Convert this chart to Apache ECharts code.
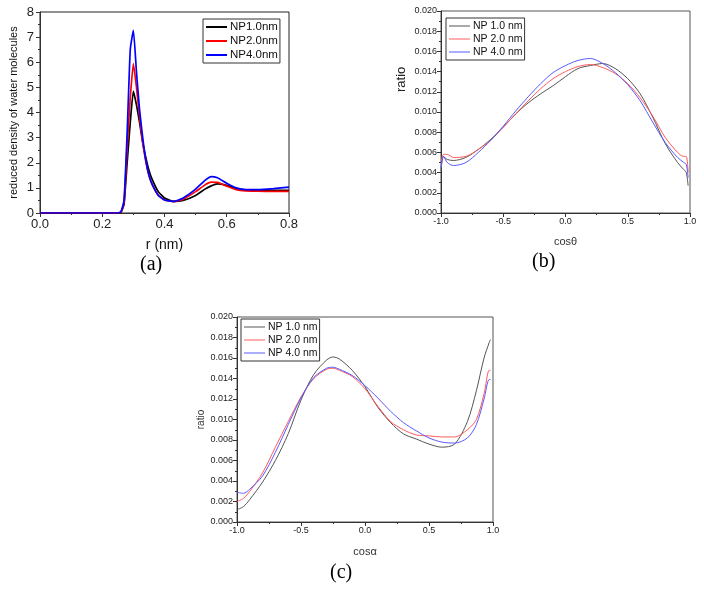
<!DOCTYPE html>
<html>
<head>
<meta charset="utf-8">
<script src="https://cdn.jsdelivr.net/npm/echarts@6/dist/echarts.min.js"></script>
<style>
  html, body { margin: 0; padding: 0; background: #fff; }
  #chart { width: 704px; height: 591px; }
</style>
</head>
<body>
<div id="chart"></div>
<script>
// (a) reduced density vs r
const rA = [0, 0.25, 0.26, 0.27, 0.28, 0.29, 0.30, 0.31, 0.32, 0.33, 0.34, 0.35, 0.36, 0.38, 0.40, 0.43, 0.46, 0.50, 0.53, 0.55, 0.57, 0.60, 0.63, 0.66, 0.70, 0.75, 0.80]
const densNP1 = [0, 0, 0.02, 0.35, 2.0, 3.6, 4.85, 4.3, 3.6, 2.8, 2.2, 1.7, 1.35, 0.85, 0.6, 0.46, 0.5, 0.7, 0.95, 1.08, 1.16, 1.1, 0.98, 0.92, 0.9, 0.9, 0.9]
const densNP2 = [0, 0, 0.03, 0.4, 2.6, 4.6, 5.95, 5.0, 3.8, 2.8, 2.05, 1.5, 1.15, 0.72, 0.52, 0.45, 0.55, 0.85, 1.12, 1.23, 1.22, 1.07, 0.93, 0.88, 0.87, 0.86, 0.86]
const densNP4 = [0, 0, 0.05, 0.5, 3.2, 6.5, 7.27, 5.6, 4.1, 3.0, 2.1, 1.5, 1.15, 0.7, 0.52, 0.46, 0.6, 0.95, 1.3, 1.45, 1.4, 1.18, 1.0, 0.93, 0.93, 0.97, 1.03]

// (b) ratio vs cos theta
const cosB = [-1.0, -0.98, -0.95, -0.9, -0.8, -0.7, -0.6, -0.5, -0.4, -0.3, -0.2, -0.1, 0.0, 0.1, 0.2, 0.3, 0.4, 0.5, 0.6, 0.7, 0.8, 0.9, 0.95, 0.97, 0.985]
const thetaNP1 = [0.0042, 0.0056, 0.0053, 0.0052, 0.0055, 0.0063, 0.0073, 0.0085, 0.0098, 0.0109, 0.0118, 0.0126, 0.0135, 0.0143, 0.0146, 0.0148, 0.0143, 0.0133, 0.0118, 0.0095, 0.0069, 0.0050, 0.0043, 0.0040, 0.0027]
const thetaNP2 = [0.0050, 0.0058, 0.0058, 0.0055, 0.0056, 0.0063, 0.0072, 0.0085, 0.0098, 0.0111, 0.0123, 0.0133, 0.0140, 0.0145, 0.0147, 0.0144, 0.0138, 0.0128, 0.0114, 0.0096, 0.0075, 0.0060, 0.0056, 0.0056, 0.0040]
const thetaNP4 = [0.0045, 0.0056, 0.0050, 0.0047, 0.0050, 0.0060, 0.0072, 0.0086, 0.0101, 0.0115, 0.0128, 0.0139, 0.0146, 0.0151, 0.0153, 0.0148, 0.0139, 0.0127, 0.0111, 0.0090, 0.0070, 0.0055, 0.0050, 0.0048, 0.0035]

// (c) ratio vs cos alpha
const cosC = [-1.0, -0.95, -0.9, -0.8, -0.7, -0.6, -0.5, -0.4, -0.3, -0.25, -0.2, -0.1, 0.0, 0.1, 0.2, 0.3, 0.4, 0.5, 0.6, 0.7, 0.8, 0.87, 0.93, 0.97, 0.98]
const alphaNP1 = [0.0012, 0.0015, 0.0022, 0.0039, 0.0060, 0.0086, 0.0119, 0.0144, 0.0158, 0.0161, 0.0159, 0.0148, 0.0132, 0.0112, 0.0097, 0.0086, 0.0081, 0.0076, 0.0073, 0.0076, 0.0098, 0.0128, 0.0160, 0.0175, 0.0178]
const alphaNP2 = [0.0020, 0.0023, 0.0030, 0.0048, 0.0073, 0.0098, 0.0122, 0.0140, 0.0149, 0.0150, 0.0148, 0.0142, 0.0130, 0.0113, 0.0098, 0.0090, 0.0085, 0.0084, 0.0083, 0.0083, 0.0090, 0.0100, 0.0125, 0.0148, 0.0148]
const alphaNP4 = [0.0029, 0.0028, 0.0032, 0.0045, 0.0068, 0.0095, 0.0121, 0.0141, 0.0150, 0.0151, 0.0149, 0.0143, 0.0133, 0.0121, 0.0108, 0.0097, 0.0089, 0.0082, 0.0078, 0.0077, 0.0082, 0.0095, 0.0120, 0.0139, 0.0139]

const namesA = ['NP1.0nm', 'NP2.0nm', 'NP4.0nm']
const namesBC = ['NP 1.0 nm', 'NP 2.0 nm', 'NP 4.0 nm']
const colorsA = ['#000000', '#ff0000', '#0000ff']
const colorsBC = ['#555555', '#ff5a5a', '#5a5aff']

const font = 'Liberation Sans, Arial, sans-serif'
const pairs = (xs, ys) => xs.map((x, i) => [x, ys[i]])

function valAxis(gridIndex, min, max, interval, digits, size, margin, extra) {
  return Object.assign({
    type: 'value',
    gridIndex,
    min,
    max,
    interval,
    axisLine: { show: true, onZero: false, lineStyle: { color: '#333', width: 1 } },
    axisTick: { show: true, length: 4, lineStyle: { color: '#333' } },
    minorTick: { show: true, splitNumber: 2, length: 2, lineStyle: { color: '#333' } },
    splitLine: { show: false },
    axisLabel: {
      color: '#222',
      fontFamily: font,
      fontSize: size,
      margin,
      formatter: (v) => v.toFixed(digits),
    },
  }, extra || {})
}

function line(name, xi, data, color, width, smooth) {
  return {
    name,
    type: 'line',
    xAxisIndex: xi,
    yAxisIndex: xi,
    data,
    symbol: 'none',
    smooth,
    lineStyle: { color, width },
    itemStyle: { color },
  }
}

function legendBox(left, top, names, colors, fontSize, h, gap) {
  return {
    left,
    top,
    orient: 'vertical',
    data: names.map((n, i) => ({ name: n, itemStyle: { color: colors[i] } })),
    icon: 'rect',
    itemWidth: 21,
    itemHeight: h,
    itemGap: gap,
    padding: [2, 2, 2, 3],
    borderColor: '#333',
    borderWidth: 1,
    selectedMode: false,
    textStyle: { fontFamily: font, fontSize, lineHeight: 12, color: '#111', padding: [0, 0, 0, -2] },
  }
}

const chart = echarts.init(document.getElementById('chart'))
chart.setOption({
  animation: false,
  backgroundColor: '#fff',
  grid: [
    { left: 40, top: 12, width: 249, height: 201, show: true, borderColor: '#222', borderWidth: 1 },
    { left: 441, top: 11, width: 249, height: 202, show: true, borderColor: '#555', borderWidth: 1 },
    { left: 237, top: 317, width: 256, height: 205, show: true, borderColor: '#555', borderWidth: 1 },
  ],
  xAxis: [
    valAxis(0, 0, 0.8, 0.2, 1, 13, 5, { name: 'r (nm)', nameLocation: 'middle', nameGap: 25, nameTextStyle: { fontFamily: font, fontSize: 14, color: '#111' } }),
    valAxis(1, -1, 1, 0.5, 1, 9, 4, { name: 'cosθ', nameLocation: 'middle', nameGap: 23, nameTextStyle: { fontFamily: font, fontSize: 11, color: '#333' } }),
    valAxis(2, -1, 1, 0.5, 1, 9, 4, { name: 'cosα', nameLocation: 'middle', nameGap: 24, nameTextStyle: { fontFamily: font, fontSize: 11, color: '#333' } }),
  ],
  yAxis: [
    valAxis(0, 0, 8, 1, 0, 13, 6, { name: 'reduced density of water molecules', nameLocation: 'middle', nameGap: 21, nameTextStyle: { fontFamily: font, fontSize: 11, color: '#111' } }),
    valAxis(1, 0, 0.02, 0.002, 3, 9, 4),
    valAxis(2, 0, 0.02, 0.002, 3, 9, 4, { name: 'ratio', nameLocation: 'middle', nameGap: 26, nameTextStyle: { fontFamily: font, fontSize: 10, color: '#333' } }),
  ],
  legend: [
    legendBox(203, 19, namesA, colorsA, 11.5, 2, 2),
    legendBox(446, 18, namesBC, colorsBC, 10.5, 1, 1),
    legendBox(241, 319, namesBC, colorsBC, 10.5, 1, 1),
  ],
  graphic: [
    { type: 'text', left: 140, top: 255, style: { text: '(a)', font: '20px "Liberation Serif", serif', fill: '#000' } },
    { type: 'text', left: 532, top: 252, style: { text: '(b)', font: '20px "Liberation Serif", serif', fill: '#000' } },
    { type: 'text', left: 330, top: 563, style: { text: '(c)', font: '20px "Liberation Serif", serif', fill: '#000' } },
    { type: 'text', x: 395, y: 92, rotation: Math.PI / 2, style: { text: 'ratio', font: '13px "Liberation Sans", Arial, sans-serif', fill: '#222' } },
  ],
  series: [
    line(namesA[0], 0, pairs(rA, densNP1), colorsA[0], 1.7, 0.15),
    line(namesA[1], 0, pairs(rA, densNP2), colorsA[1], 1.7, 0.15),
    line(namesA[2], 0, pairs(rA, densNP4), colorsA[2], 1.7, 0.15),
    line(namesBC[0], 1, pairs(cosB, thetaNP1), colorsBC[0], 1, 0.3),
    line(namesBC[1], 1, pairs(cosB, thetaNP2), colorsBC[1], 1, 0.3),
    line(namesBC[2], 1, pairs(cosB, thetaNP4), colorsBC[2], 1, 0.3),
    line(namesBC[0], 2, pairs(cosC, alphaNP1), colorsBC[0], 1, 0.3),
    line(namesBC[1], 2, pairs(cosC, alphaNP2), colorsBC[1], 1, 0.3),
    line(namesBC[2], 2, pairs(cosC, alphaNP4), colorsBC[2], 1, 0.3),
  ],
})
</script>
</body>
</html>
